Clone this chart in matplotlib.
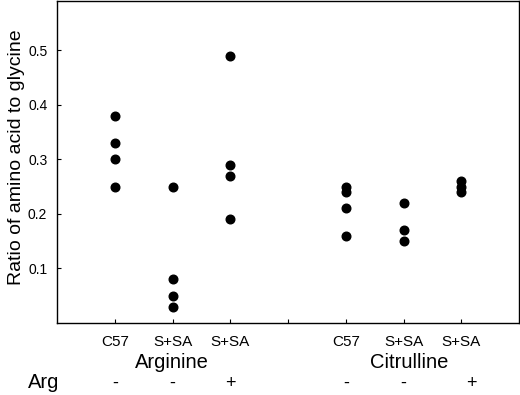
import matplotlib
matplotlib.use("Agg")
import matplotlib.pyplot as plt

plt.rcParams['font.family'] = ['Liberation Sans', 'DejaVu Sans']

# groups: x position, label, arg supplement, values
positions = [1, 2, 3, 5, 6, 7]
strain_labels = ['C57', 'S+SA', 'S+SA', 'C57', 'S+SA', 'S+SA']
arg_signs = ['-', '-', '+', '-', '-', '+']
arg_c57 = [0.38, 0.33, 0.30, 0.25]
arg_ssa = [0.25, 0.08, 0.05, 0.03]
arg_ssa_arg = [0.49, 0.29, 0.27, 0.19]
cit_c57 = [0.25, 0.24, 0.21, 0.16]
cit_ssa = [0.22, 0.17, 0.15]
cit_ssa_arg = [0.26, 0.25, 0.24]
groups = [arg_c57, arg_ssa, arg_ssa_arg, cit_c57, cit_ssa, cit_ssa_arg]
yticks = [0.1, 0.2, 0.3, 0.4, 0.5]

fig = plt.figure(figsize=(5.2, 3.95), dpi=100)
ax = fig.add_axes([57 / 520, 1 - 323 / 395, 462 / 520, 322 / 395])

for x, vals in zip(positions, groups):
    ax.plot([x] * len(vals), vals, 'o', color='black', markersize=6.2, linestyle='none')

ax.set_xlim(0, 8)
ax.set_ylim(0, 0.59)
ax.set_yticks(yticks)
ax.set_yticklabels([f'{t:.1f}' for t in yticks], fontsize=10)
ax.set_xticks([1, 2, 3, 4, 5, 6, 7])
ax.set_xticklabels(strain_labels[:3] + [''] + strain_labels[3:], fontsize=11)
ax.tick_params(direction='in', length=3, width=0.8, pad=9)
ax.tick_params(axis='y', pad=7)
for s in ax.spines.values():
    s.set_linewidth(1.0)

ax.set_ylabel('Ratio of amino acid to glycine', fontsize=14)
ax.yaxis.set_label_coords(-0.069, 0.515)

# group names and Arg row
to_fig = lambda px, py: (px / 520, 1 - py / 395)
fig.text(*to_fig(172, 363), 'Arginine', fontsize=14.5, ha='center', va='center')
fig.text(*to_fig(409, 363), 'Citrulline', fontsize=14.5, ha='center', va='center')
fig.text(*to_fig(44, 383), 'Arg', fontsize=14.5, ha='center', va='center')
for x, sgn in zip(positions, arg_signs):
    xd = ax.transData.transform((x, 0))[0]
    fig.text(xd / 520 + (0.02 if (sgn == '+' and x > 4) else 0), to_fig(0, 383)[1], sgn,
             fontsize=13, ha='center', va='center')

fig.savefig('out.png', dpi=100)
